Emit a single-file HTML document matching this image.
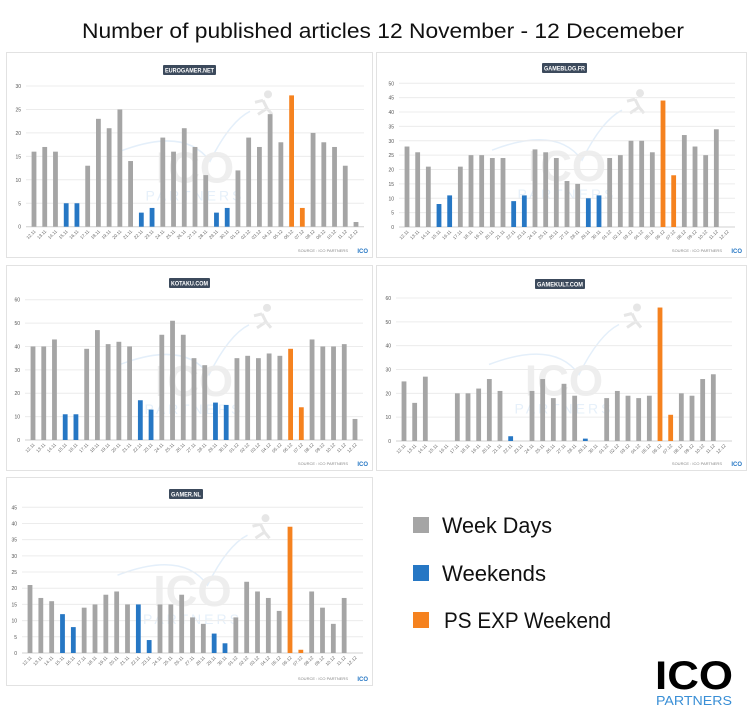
<!DOCTYPE html>
<html><head><meta charset="utf-8"><style>
body{margin:0;background:#fff;width:750px;height:717px;overflow:hidden;font-family:"Liberation Sans",sans-serif}
svg{position:absolute;left:0;top:0}
</style></head><body>
<svg id="s" width="750" height="717" xmlns="http://www.w3.org/2000/svg">
<text x="383" y="38" text-anchor="middle" font-family="Liberation Sans, sans-serif" font-size="21" fill="#111" textLength="602" lengthAdjust="spacingAndGlyphs">Number of published articles 12 November - 12 Decemeber</text>
<rect x="413" y="517" width="16" height="16" fill="#a5a5a5"/>
<text x="442" y="533" font-size="22" fill="#111" textLength="110" lengthAdjust="spacingAndGlyphs">Week Days</text>
<rect x="413" y="565" width="16" height="16" fill="#2677c4"/>
<text x="442" y="581" font-size="22" fill="#111" textLength="104" lengthAdjust="spacingAndGlyphs">Weekends</text>
<rect x="413" y="612" width="16" height="16" fill="#f5821f"/>
<text x="444" y="628" font-size="22" fill="#111" textLength="167" lengthAdjust="spacingAndGlyphs">PS EXP Weekend</text>
<text x="694" y="689" text-anchor="middle" font-size="40" font-weight="bold" fill="#000" textLength="78" lengthAdjust="spacingAndGlyphs">ICO</text>
<text x="694" y="705" text-anchor="middle" font-size="13" fill="#3a8fd6" textLength="76" lengthAdjust="spacingAndGlyphs">PARTNERS</text>
</svg>
<script>
var NS="http://www.w3.org/2000/svg",s=document.getElementById('s');
function el(t,a,txt){var e=document.createElementNS(NS,t);for(var k in a)e.setAttribute(k,a[k]);if(txt!=null)e.textContent=txt;s.appendChild(e);return e;}
var dates=[];for(var d=12;d<=30;d++)dates.push(d+'.11');for(var d=1;d<=12;d++)dates.push((d<10?'0':'')+d+'.12');
var P=[
{b:[6,52,366,205],z:226.7,t:86,max:30,st:5,x0:34,x1:356,name:"EUROGAMER.NET",lx:163,lw:53,ly:65,
v:[16,17,16,5,5,13,23,21,25,14,3,4,19,16,21,17,11,3,4,12,19,17,24,18,28,4,20,18,17,13,1]},
{b:[376,52,370,205],z:227,t:83.3,max:50,st:5,x0:407,x1:727,name:"GAMEBLOG.FR",lx:542,lw:45,ly:63,
v:[28,26,21,8,11,21,25,25,24,24,9,11,27,26,24,16,15,10,11,24,25,30,30,26,44,18,32,28,25,34,0]},
{b:[6,265,366,205],z:440,t:299.7,max:60,st:10,x0:33,x1:355,name:"KOTAKU.COM",lx:169,lw:41,ly:278,
v:[40,40,43,11,11,39,47,41,42,40,17,13,45,51,45,35,32,16,15,35,36,35,37,36,39,14,43,40,40,41,9]},
{b:[376,265,370,205],z:441,t:298,max:60,st:10,x0:404,x1:724,name:"GAMEKULT.COM",lx:535,lw:50,ly:279,
v:[25,16,27,0,0,20,20,22,26,21,2,0,21,26,18,24,19,1,0,18,21,19,18,19,56,11,20,19,26,28,0]},
{b:[6,477,366,208],z:653,t:507.3,max:45,st:5,x0:30,x1:355,name:"GAMER.NL",lx:169,lw:34,ly:489,
v:[21,17,16,12,8,14,15,18,19,15,15,4,15,15,18,11,9,6,3,11,22,19,17,13,39,1,19,14,9,17,0]}
];
P.forEach(function(p){
 var b=p.b;
 el('rect',{x:b[0]+.5,y:b[1]+.5,width:b[2],height:b[3],fill:'#fff',stroke:'#e2e2e2'});
 var cx=(p.x0+p.x1)/2, cy=(p.z+p.t)/2;
 el('path',{d:'M'+(cx-75)+' '+(cy-5)+' Q'+(cx-10)+' '+(cy-30)+' '+(cx+15)+' '+(cy+5)+' Q'+(cx+35)+' '+(cy-35)+' '+(cx+55)+' '+(cy-45),fill:'none',stroke:'#e4effa','stroke-width':1.5});
 el('circle',{cx:cx+73,cy:cy-62,r:4,fill:'#e6e6e6'});
 el('path',{d:'M'+(cx+68)+' '+(cy-56)+' l-8 2 m8 -2 l4 8 l5 6 m-5 -6 l-9 6',fill:'none',stroke:'#e6e6e6','stroke-width':3});
 el('text',{x:cx,y:cy+26,'text-anchor':'middle','font-size':44,'font-weight':'bold',fill:'#eeeeee'},'ICO');
 el('text',{x:cx,y:cy+44,'text-anchor':'middle','font-size':14,fill:'#e6f0fa','letter-spacing':3},'PARTNERS');
 var sc=(p.z-p.t)/p.max;
 for(var g=0;g<=p.max;g+=p.st){var y=p.z-g*sc;
  el('line',{x1:p.x0-8,x2:p.x1+8,y1:y,y2:y,stroke:g?'#ececec':'#d0d0d0','stroke-width':1});
  el('text',{x:p.x0-13,y:y+2,'text-anchor':'end','font-size':5,fill:'#555'},g);}
 var sp=(p.x1-p.x0)/30;
 p.v.forEach(function(v,i){var x=p.x0+i*sp;
  var c=(i==24||i==25)?'#f5821f':([3,4,10,11,17,18].indexOf(i)>=0?'#2677c4':'#a5a5a5');
  if(v>0)el('rect',{x:x-2.4,y:p.z-v*sc,width:4.8,height:v*sc,fill:c});
  el('text',{x:x+2,y:p.z+5,'text-anchor':'end','font-size':4.5,fill:'#666',transform:'rotate(-45 '+(x+2)+' '+(p.z+5)+')'},dates[i]);
 });
 el('rect',{x:p.lx,y:p.ly,width:p.lw,height:10,fill:'#3c4a5c',rx:1});
 el('text',{x:p.lx+p.lw/2,y:p.ly+7.3,'text-anchor':'middle','font-size':6,fill:'#fff','font-weight':'bold',textLength:p.lw-4,lengthAdjust:'spacingAndGlyphs'},p.name);
 var bx=b[0]+b[2],by=b[1]+b[3];
 el('text',{x:bx-24,y:by-5,'text-anchor':'end','font-size':4,fill:'#888'},'SOURCE : ICO PARTNERS');
 el('text',{x:bx-4,y:by-4,'text-anchor':'end','font-size':6,'font-weight':'bold',fill:'#2677c4'},'ICO');
});
</script>
</body></html>
